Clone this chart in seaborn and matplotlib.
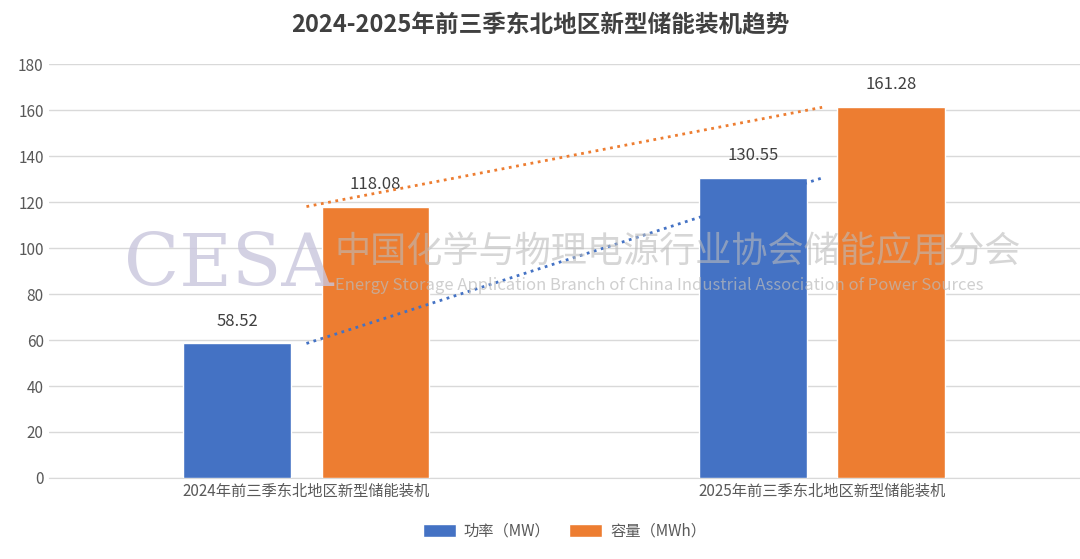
import matplotlib.pyplot as plt
import pandas as pd
import seaborn as sns

categories = ['2024年前三季东北地区新型储能装机', '2025年前三季东北地区新型储能装机']
series = ['功率（MW）', '容量（MWh）']
power = [58.52, 130.55]
capacity = [118.08, 161.28]
colors = ['#4472C4', '#ED7D31']

df = pd.DataFrame({
    'cat': categories * 2,
    'series': [series[0]] * 2 + [series[1]] * 2,
    'value': power + capacity,
})

sns.set_style('white')
plt.rcParams['font.family'] = ['Noto Sans CJK SC', 'DejaVu Sans']

fig = plt.figure(figsize=(10.8, 5.59), dpi=100)
ax = fig.add_axes([0.045, 0.145, 0.955, 0.74])

sns.barplot(data=df, x='cat', y='value', hue='series', palette=colors, saturation=1,
            width=0.536, gap=0.22, ax=ax, zorder=3)

for c in ax.containers:
    ax.bar_label(c, labels=[f'{v:.2f}' for v in c.datavalues], padding=10,
                 fontsize=12, color='#404040')

# linear trendlines at category positions
ax.plot([0, 1], power, linestyle=':', color=colors[0], lw=2, zorder=4)
ax.plot([0, 1], capacity, linestyle=':', color=colors[1], lw=2, zorder=4)

ax.set_ylim(0, 180)
ax.set_yticks(range(0, 181, 20))
ax.set_xlim(-0.5, 1.5)
ax.yaxis.grid(True, color='#d9d9d9', lw=1)
ax.set_axisbelow(True)
for s in ['top', 'right', 'left']:
    ax.spines[s].set_visible(False)
ax.spines['bottom'].set_color('#d9d9d9')
ax.tick_params(axis='both', length=0, labelsize=11, colors='#595959')
ax.set_xlabel('')
ax.set_ylabel('')

ax.legend(loc='upper center', bbox_to_anchor=(0.5, -0.075), ncol=2, frameon=False,
          fontsize=11, handlelength=2.2, handleheight=0.9, columnspacing=1.2,
          handletextpad=0.5, labelcolor='#595959')

fig.text(0.5, 0.955, '2024-2025年前三季东北地区新型储能装机趋势', ha='center', va='center',
         fontsize=17, fontweight='bold', color='#404040')

# watermark
fig.text(0.115, 0.525, 'CESA', fontsize=52, family='DejaVu Serif', color='#c9c6dd',
         alpha=0.8, va='center', zorder=10)
fig.text(0.31, 0.548, '中国化学与物理电源行业协会储能应用分会', fontsize=26,
         color='#bbbbbb', alpha=0.6, va='center', zorder=10)
fig.text(0.31, 0.49, 'Energy Storage Application Branch of China Industrial Association of Power Sources',
         fontsize=12, color='#bbbbbb', alpha=0.7, va='center', zorder=10)

fig.savefig('out.png', dpi=100)
